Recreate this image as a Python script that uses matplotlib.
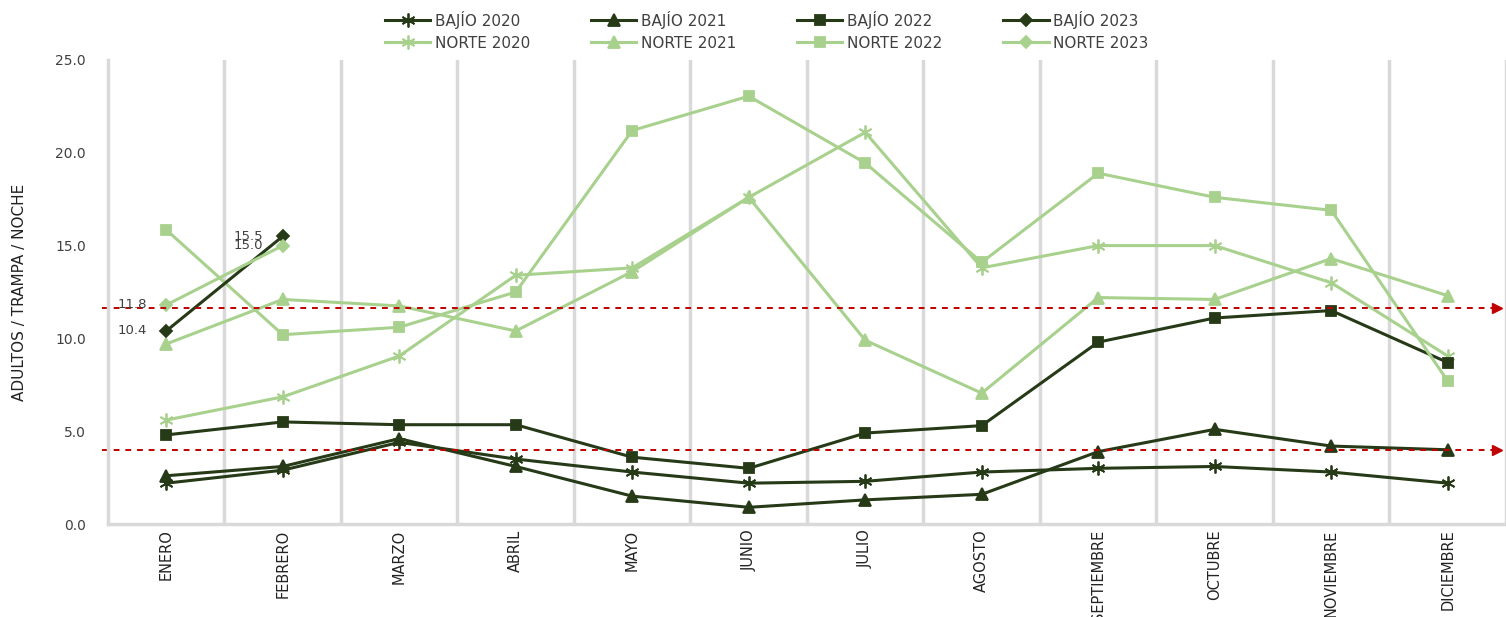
import matplotlib.pyplot as plt
import numpy as np

meses = ['ENERO', 'FEBRERO', 'MARZO', 'ABRIL', 'MAYO', 'JUNIO', 'JULIO',
         'AGOSTO', 'SEPTIEMBRE', 'OCTUBRE', 'NOVIEMBRE', 'DICIEMBRE']

# valores (adultos / trampa / noche)
bajio_2020 = [2.2, 2.9, 4.4, 3.5, 2.8, 2.2, 2.3, 2.8, 3.0, 3.1, 2.8, 2.2]
bajio_2021 = [2.6, 3.1, 4.6, 3.1, 1.5, 0.9, 1.3, 1.6, 3.9, 5.1, 4.2, 4.0]
bajio_2022 = [4.8, 5.5, 5.35, 5.35, 3.6, 3.0, 4.9, 5.3, 9.8, 11.1, 11.5, 8.7]
bajio_2023 = [10.4, 15.5]
norte_2020 = [5.6, 6.85, 9.05, 13.4, 13.8, 17.6, 21.1, 13.8, 15.0, 15.0, 13.0, 9.05]
norte_2021 = [9.7, 12.1, 11.75, 10.4, 13.6, 17.6, 9.9, 7.05, 12.2, 12.1, 14.3, 12.3]
norte_2022 = [15.85, 10.2, 10.6, 12.5, 21.2, 23.05, 19.45, 14.1, 18.9, 17.6, 16.9, 7.7]
norte_2023 = [11.8, 15.0]

# lineas de referencia (rojas)
ref_norte = 11.65
ref_bajio = 4.0

oscuro = '#263a17'
claro = '#a9d18e'
star = (6, 2, 0)  # asterisco tipo excel

fig = plt.figure(figsize=(15.06, 6.17), dpi=100)
ax = fig.add_axes([0.0717, 0.1507, 0.9283, 0.7521])

x = np.arange(len(meses))
x23 = np.arange(len(bajio_2023))

series = [
    ('BAJÍO 2020', x, bajio_2020, oscuro, star, 10),
    ('NORTE 2020', x, norte_2020, claro, star, 10),
    ('BAJÍO 2021', x, bajio_2021, oscuro, '^', 8),
    ('NORTE 2021', x, norte_2021, claro, '^', 8),
    ('BAJÍO 2022', x, bajio_2022, oscuro, 's', 7),
    ('NORTE 2022', x, norte_2022, claro, 's', 7),
    ('BAJÍO 2023', x23, bajio_2023, oscuro, 'D', 6),
    ('NORTE 2023', x23, norte_2023, claro, 'D', 6),
]
for nombre, xs, ys, c, m, ms in series:
    ax.plot(xs, ys, color=c, lw=2.2, marker=m, ms=ms, mew=1.3,
            mec=c, mfc=c, label=nombre)

# etiquetas 2023
for xs, ys in [(x23, bajio_2023), (x23, norte_2023)]:
    for xi, yi in zip(xs, ys):
        ax.annotate(f'{yi:.1f}', (xi, yi), xytext=(-14, 0), textcoords='offset points',
                    ha='right', va='center', fontsize=9.5, color='#404040')

# lineas rojas punteadas con flecha
for v in [ref_norte, ref_bajio]:
    ax.plot([-0.55, 11.4], [v, v], color='#c00000', lw=1.4, ls=(0, (3, 3)), clip_on=False)
    ax.plot([11.42], [v], color='#c00000', marker='>', ms=7)

ax.set_xlim(-0.5, 11.5)
ax.set_ylim(0, 25)
ax.set_yticks(np.arange(0, 26, 5))
ax.set_yticklabels([f'{v:.1f}' for v in np.arange(0, 26, 5)], fontsize=10, color='#404040')
ax.set_xticks(x)
ax.set_xticklabels(meses, rotation=90, fontsize=10.5, color='#222222')
ax.set_xticks(x + 0.5, minor=True)
ax.tick_params(which='both', length=0)
ax.tick_params(axis='x', pad=4)
ax.tick_params(axis='y', pad=16)
ax.grid(which='minor', axis='x', color='#d9d9d9', lw=2.5)
ax.set_axisbelow(True)
for s in ['top', 'right']:
    ax.spines[s].set_visible(False)
ax.spines['left'].set_color('#d9d9d9')
ax.spines['left'].set_linewidth(2.5)
ax.spines['bottom'].set_color('#d9d9d9')
ax.spines['bottom'].set_linewidth(2.5)

ax.set_ylabel('ADULTOS / TRAMPA / NOCHE', fontsize=11, color='#222222')
ax.yaxis.set_label_coords(-0.058, 0.5)

fig.legend(loc='upper center', bbox_to_anchor=(0.509, 1.005), ncol=4, frameon=False,
           fontsize=11, columnspacing=3.95, handlelength=3, handletextpad=0.3,
           labelspacing=0.45, labelcolor='#404040')

fig.savefig('out.png', dpi=100)
